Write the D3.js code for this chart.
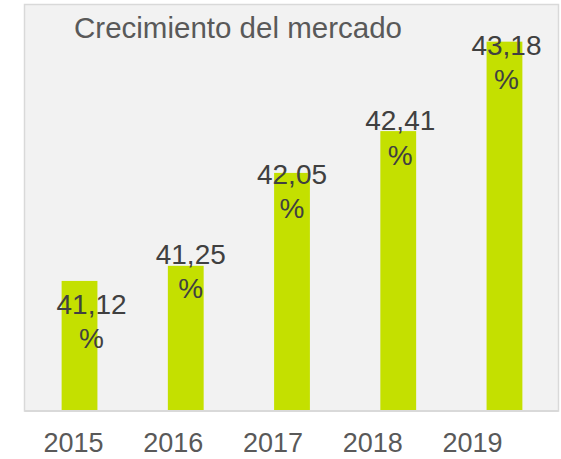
<!DOCTYPE html>
<html>
<head>
<meta charset="utf-8">
<script src="https://cdn.jsdelivr.net/npm/d3@7"></script>
<style>
  body { margin: 0; background: #fff; }
  svg { display: block; font-family: "Liberation Sans", Arial, sans-serif; }
</style>
</head>
<body>
<div id="chart"></div>
<script>
// Chart data
var years = ['2015', '2016', '2017', '2018', '2019'];
var growth = [41.12, 41.25, 42.05, 42.41, 43.18];   // % market growth
var labelText = ['41,12', '41,25', '42,05', '42,41', '43,18'];
var yDomain = [40, 43.5];

// Layout
var width = 561, height = 459;
var plot = {left: 24.5, right: 558.5, top: 4.5, bottom: 411};
var barColor = '#c4e000';
// hand placed label nudges (dx, dy from bar top), the original labels were dragged around
var labelNudge = [[12, 33], [5, -2], [0, 11], [2, -1], [2, 13]];

var svg = d3.select('#chart')
  .append('svg')
  .attr('width', width)
  .attr('height', height);

// Plot area background
svg.append('rect')
  .attr('x', plot.left)
  .attr('y', plot.top)
  .attr('width', plot.right - plot.left)
  .attr('height', plot.bottom - plot.top)
  .attr('fill', '#f2f2f2')
  .attr('stroke', '#d9d9d9')
  .attr('stroke-width', 1.5);

var x = d3.scaleBand()
  .domain(years)
  .range([plot.left + 1, plot.right])
  .paddingInner(0.663)
  .paddingOuter(0.34);

var y = d3.scaleLinear()
  .domain(yDomain)
  .range([plot.bottom, plot.top]);

// Bars
svg.append('g')
  .selectAll('rect')
  .data(growth)
  .join('rect')
    .attr('x', (d, i) => x(years[i]))
    .attr('y', d => y(d))
    .attr('width', x.bandwidth())
    .attr('height', d => y(yDomain[0]) - y(d))
    .attr('fill', barColor);

// Bottom axis line
svg.append('line')
  .attr('x1', plot.left).attr('x2', plot.right)
  .attr('y1', plot.bottom).attr('y2', plot.bottom)
  .attr('stroke', '#d9d9d9')
  .attr('stroke-width', 2);

// Data labels, value on one line and % on the next
var labels = svg.append('g')
  .selectAll('text')
  .data(growth)
  .join('text')
    .attr('text-anchor', 'middle')
    .attr('fill', '#404040')
    .style('font-size', '28px')
    .attr('transform', (d, i) => 'translate(' + (x(years[i]) + x.bandwidth() / 2 + labelNudge[i][0]) + ',' + (y(d) + labelNudge[i][1]) + ')');
labels.append('tspan')
  .attr('x', 0)
  .attr('y', 0)
  .text((d, i) => labelText[i]);
labels.append('tspan')
  .attr('x', 0)
  .attr('y', 34.5)
  .text('%');

// Category labels sit on their own, slightly narrower spacing
var xLabels = d3.scalePoint()
  .domain(years)
  .range([73, 472]);
svg.append('g')
  .attr('transform', 'translate(0,' + 452 + ')')
  .call(d3.axisBottom(xLabels).tickSize(0).tickPadding(0))
  .call(g => g.select('.domain').remove())
  .call(g => g.selectAll('text')
    .attr('dy', null)
    .attr('y', 0)
    .attr('fill', '#595959')
    .style('font-size', '27px')
    .style('font-family', '"Liberation Sans", Arial, sans-serif'));

// Title
svg.append('text')
  .attr('x', 238)
  .attr('y', 38)
  .attr('text-anchor', 'middle')
  .attr('fill', '#595959')
  .style('font-size', '29.5px')
  .text('Crecimiento del mercado');
</script>
</body>
</html>
